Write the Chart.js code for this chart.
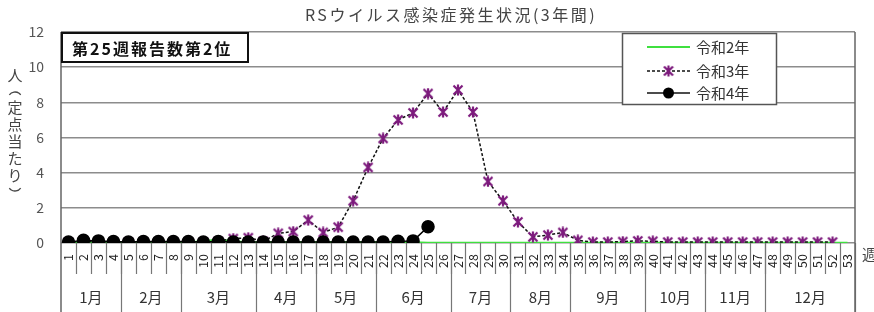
<!DOCTYPE html>
<html>
<head>
<meta charset="utf-8">
<script src="https://cdn.jsdelivr.net/npm/chart.js@4.4.1/dist/chart.umd.min.js"></script>
<style>
    body { margin: 0; background: #fff; }
    canvas { display: block; }
</style>
</head>
<body>
<canvas id="myChart" width="874" height="312"></canvas>
<script>
// 週番号
var weeks = ['1','2','3','4','5','6','7','8','9','10','11','12','13','14','15','16','17','18','19','20',
    '21','22','23','24','25','26','27','28','29','30','31','32','33','34','35','36','37','38','39','40',
    '41','42','43','44','45','46','47','48','49','50','51','52','53'];

// 月の区切り (各月の最終週)
var months = ['1月','2月','3月','4月','5月','6月','7月','8月','9月','10月','11月','12月'];
var monthEnds = [4, 8, 13, 17, 21, 26, 30, 34, 39, 43, 47, 53];

var yTicks = [0, 2, 4, 6, 8, 10, 12];

// 令和2年
var r2 = [0.05,0.05,0.05,0.05,0.05,0.05,0.05,0.05,0.05,0.1,0.2,0.1,0.05,0.05,0.05,0.05,0.05,0.05,0.05,0.05,
    0.05,0.05,0.05,0.05,0.02,0.02,0.02,0.02,0.02,0.02,0.02,0.02,0.02,0.02,0.02,0.02,0.02,0.02,0.02,0.02,
    0.02,0.02,0.02,0.02,0.02,0.02,0.02,0.02,0.02,0.02,0.02,0.02,0.02];
// 令和3年
var r3 = [0.05,0.1,0.05,0.05,0.05,0.05,0.05,0.05,0.05,0.05,0.1,0.25,0.3,0.1,0.55,0.65,1.3,0.6,0.9,2.4,
    4.3,5.95,7.0,7.4,8.5,7.45,8.7,7.45,3.5,2.4,1.2,0.35,0.45,0.6,0.15,0.05,0.05,0.08,0.12,0.1,
    0.05,0.05,0.05,0.05,0.05,0.05,0.05,0.05,0.05,0.05,0.05,0.05,null];
// 令和4年
var r4 = [0.05,0.15,0.12,0.08,0.05,0.08,0.08,0.08,0.08,0.05,0.08,0.05,0.05,0.05,0.05,0.05,0.05,0.05,0.05,0.05,
    0.05,0.05,0.1,0.12,0.92];

var seriesNames = ['令和2年', '令和3年', '令和4年'];

var titleText = 'RSウイルス感染症発生状況(3年間)';
var noteText = '第25週報告数第2位';
var yTitleChars = ['人', '(', '定', '点', '当', 'た', 'り', ')'];

var FONT = '"Noto Sans CJK JP", "Noto Sans", sans-serif';
var purple = '#7d1a7d';

// 令和3年のマーカー (×に縦線)
function makeStar(size, color) {
    var c = document.createElement('canvas');
    c.width = size; c.height = size;
    var g = c.getContext('2d');
    g.strokeStyle = color;
    g.lineWidth = 2.2;
    g.beginPath();
    g.moveTo(1.5, 1.5); g.lineTo(size - 1.5, size - 1.5);
    g.moveTo(size - 1.5, 1.5); g.lineTo(1.5, size - 1.5);
    g.moveTo(size / 2, 0.5); g.lineTo(size / 2, size - 0.5);
    g.stroke();
    return c;
}
var star = makeStar(12, purple);

// 枠・区切り線・文字
var decorations = {
    id: 'decorations',
    afterDraw: function (chart) {
        var ctx = chart.ctx;
        var area = chart.chartArea;
        var x = chart.scales.x;
        var half = (x.getPixelForValue(1) - x.getPixelForValue(0)) / 2;
        ctx.save();

        // 週の区切り
        ctx.strokeStyle = '#777';
        ctx.lineWidth = 1.2;
        ctx.beginPath();
        for (var i = 1; i < weeks.length; i++) {
            var px = Math.round(x.getPixelForValue(i) - half) + 0.5;
            ctx.moveTo(px, area.bottom);
            ctx.lineTo(px, area.bottom + 31);
        }
        ctx.stroke();

        // 月の区切りと月ラベル
        ctx.beginPath();
        var start = 0;
        ctx.fillStyle = '#333';
        ctx.font = '15px ' + FONT;
        ctx.textAlign = 'center';
        ctx.textBaseline = 'middle';
        monthEnds.forEach(function (end, m) {
            var left = x.getPixelForValue(start) - half;
            var right = x.getPixelForValue(end - 1) + half;
            ctx.fillText(months[m], (left + right) / 2, 297);
            var px = Math.round(right) + 0.5;
            ctx.moveTo(px, area.bottom);
            ctx.lineTo(px, chart.height);
            start = end;
        });
        ctx.stroke();

        // 左と右の線
        ctx.strokeStyle = '#666';
        ctx.lineWidth = 1.5;
        ctx.beginPath();
        ctx.moveTo(area.left, area.top);
        ctx.lineTo(area.left, chart.height);
        ctx.moveTo(area.right, area.top);
        ctx.lineTo(area.right, chart.height);
        ctx.stroke();

        // タイトル
        ctx.fillStyle = '#444';
        ctx.font = '16px ' + FONT;
        ctx.letterSpacing = '2.5px';
        ctx.fillText(titleText, 451, 15);
        ctx.letterSpacing = '0px';

        // 週
        ctx.font = '15px ' + FONT;
        ctx.textAlign = 'left';
        ctx.fillText('週', 862, 254);

        // 縦軸タイトル (縦書き、括弧は弧で描く)
        ctx.textAlign = 'center';
        ctx.font = '15px ' + FONT;
        ctx.fillStyle = '#444';
        ctx.strokeStyle = '#444';
        ctx.lineWidth = 1.3;
        var ys = [75, 92, 107, 124, 141, 158, 175, 191];
        yTitleChars.forEach(function (ch, k) {
            if (ch == '(') {
                ctx.beginPath();
                ctx.arc(15, ys[k] + 7, 7, Math.PI * 1.2, Math.PI * 1.8);
                ctx.stroke();
            } else if (ch == ')') {
                ctx.beginPath();
                ctx.arc(15, ys[k] - 7, 7, Math.PI * 0.2, Math.PI * 0.8);
                ctx.stroke();
            } else {
                ctx.fillText(ch, 15, ys[k]);
            }
        });

        // 報告数の枠
        ctx.fillStyle = '#fff';
        ctx.fillRect(area.left, area.top, 187, 30);
        ctx.strokeStyle = '#111';
        ctx.lineWidth = 2;
        ctx.strokeRect(area.left + 1, area.top + 1, 186, 29);
        ctx.fillStyle = '#111';
        ctx.font = 'bold 16px ' + FONT;
        ctx.letterSpacing = '2px';
        ctx.textAlign = 'left';
        ctx.fillText(noteText, 72, area.top + 17);
        ctx.letterSpacing = '0px';

        // 凡例
        var lx = 622, ly = 33;
        ctx.fillStyle = '#fff';
        ctx.fillRect(lx, ly, 155, 72);
        ctx.strokeStyle = '#555';
        ctx.lineWidth = 1.5;
        ctx.strokeRect(lx + 0.5, ly + 0.5, 154, 71);
        var rows = [47, 71, 93];
        ctx.font = '15px ' + FONT;
        ctx.textBaseline = 'middle';
        rows.forEach(function (ry, k) {
            ctx.beginPath();
            ctx.lineWidth = k == 0 ? 1.8 : 1.5;
            ctx.strokeStyle = k == 0 ? '#3fe03f' : '#111';
            ctx.setLineDash(k == 1 ? [3, 2] : []);
            ctx.moveTo(647, ry);
            ctx.lineTo(690, ry);
            ctx.stroke();
            ctx.setLineDash([]);
            if (k == 1) {
                ctx.drawImage(star, 668.5 - 6, ry - 6);
            }
            if (k == 2) {
                ctx.beginPath();
                ctx.fillStyle = '#000';
                ctx.arc(668.5, ry, 5.5, 0, Math.PI * 2);
                ctx.fill();
            }
            ctx.fillStyle = '#333';
            ctx.fillText(seriesNames[k], 696, ry);
        });

        ctx.restore();
    }
};

var ctx = document.getElementById('myChart').getContext('2d');
var chart = new Chart(ctx, {
    type: 'line',
    data: {
        labels: weeks,
        datasets: [
            {
                label: seriesNames[0],
                data: r2,
                borderColor: '#3fe03f',
                borderWidth: 1.8,
                pointRadius: 0,
                order: 3
            },
            {
                label: seriesNames[1],
                data: r3,
                borderColor: '#111',
                borderWidth: 1.5,
                borderDash: [3, 2],
                pointStyle: star,
                pointRadius: 6,
                order: 2
            },
            {
                label: seriesNames[2],
                data: r4,
                borderColor: '#000',
                borderWidth: 1.5,
                pointStyle: 'circle',
                pointRadius: 6,
                pointBackgroundColor: '#000',
                pointBorderColor: '#000',
                order: 1
            }
        ]
    },
    options: {
        responsive: false,
        animation: false,
        layout: { padding: { left: 0, right: 19, top: 32, bottom: 0 } },
        plugins: {
            legend: { display: false },
            tooltip: { enabled: false }
        },
        scales: {
            x: {
                offset: true,
                grid: { display: false },
                border: { display: false },
                afterFit: function (scale) { scale.height = 69; },
                ticks: {
                    autoSkip: false,
                    minRotation: 90,
                    maxRotation: 90,
                    padding: 3,
                    color: '#222',
                    font: { size: 12.5, family: FONT }
                }
            },
            y: {
                min: 0,
                max: 12,
                afterFit: function (scale) { scale.width = 61; },
                afterBuildTicks: function (scale) {
                    scale.ticks = yTicks.map(function (v) { return { value: v }; });
                },
                grid: { color: '#8c8c8c', lineWidth: 1.6, drawTicks: false },
                border: { display: false },
                ticks: {
                    padding: 17,
                    color: '#555',
                    font: { size: 14, family: FONT }
                }
            }
        }
    },
    plugins: [decorations]
});
</script>
</body>
</html>
